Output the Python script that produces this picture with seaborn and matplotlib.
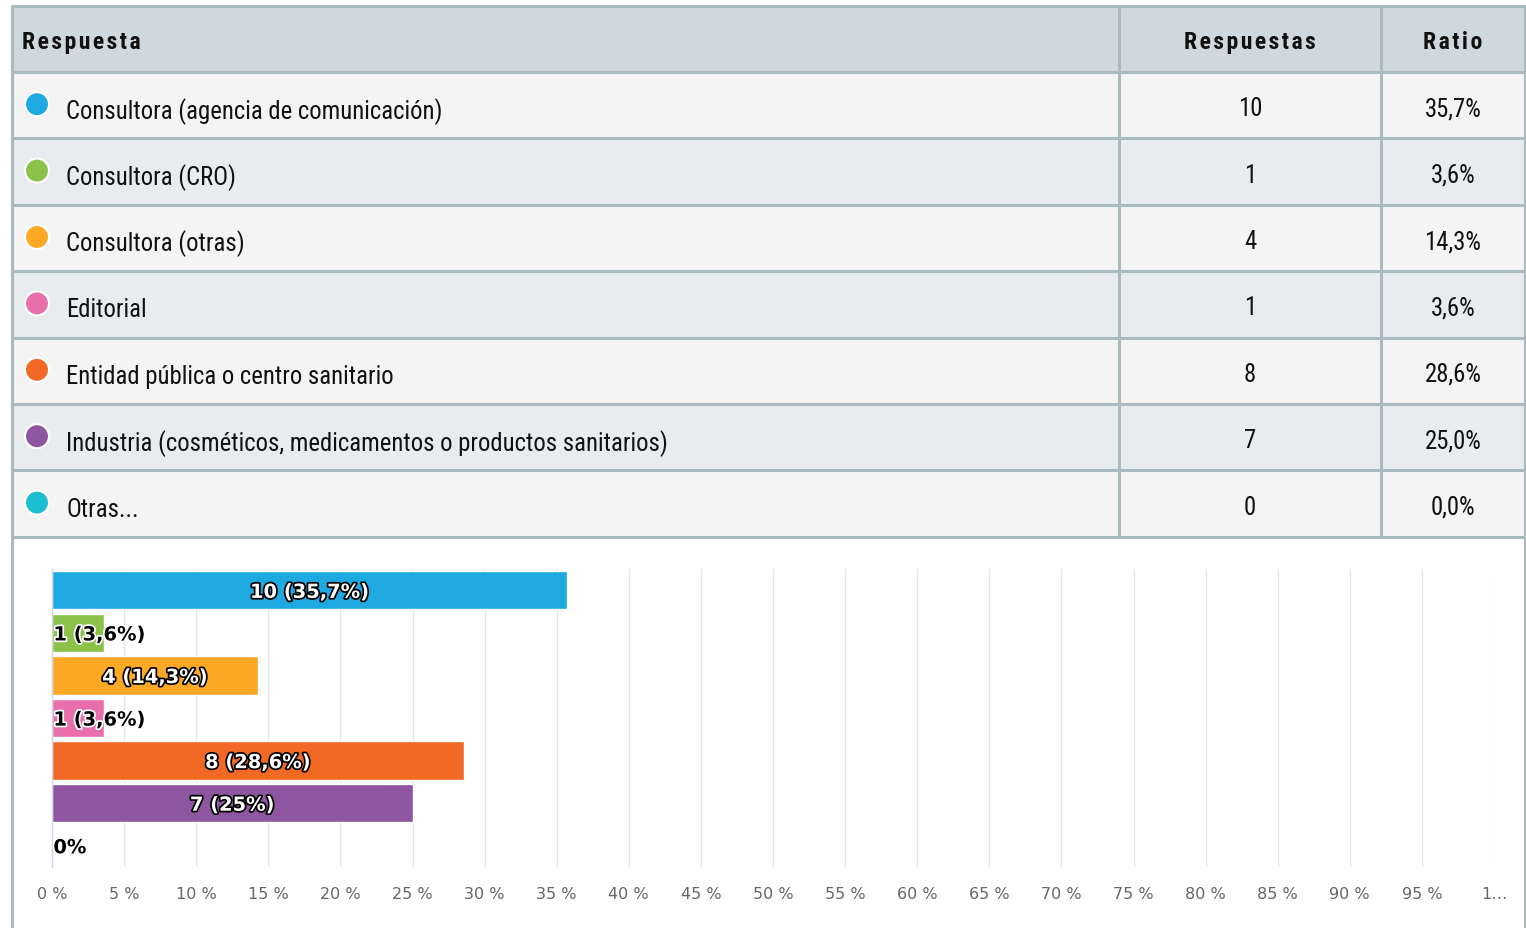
import numpy as np
import matplotlib
matplotlib.use("Agg")
import matplotlib.pyplot as plt
import matplotlib.patheffects as pe
from matplotlib import font_manager
from matplotlib.font_manager import FontProperties
from matplotlib.patches import Rectangle, Circle
import seaborn as sns

# Data
categories = [
    "Consultora (agencia de comunicación)",
    "Consultora (CRO)",
    "Consultora (otras)",
    "Editorial",
    "Entidad pública o centro sanitario",
    "Industria (cosméticos, medicamentos o productos sanitarios)",
    "Otras...",
]
counts = [10, 1, 4, 1, 8, 7, 0]
respondents = 28  # multiple choice: ratios are over 28 people
colors = ["#1fa9e1", "#8bc34a", "#fda926", "#e86fac", "#f26825", "#8e55a0", "#1cbfd0"]
tick_labels = [f"{v} %" for v in range(0, 100, 5)] + ["1…"]

pct = [c / respondents * 100 for c in counts]

sns.set_theme(style="white")
plt.rcParams["font.family"] = ["DejaVu Sans"]


def find_condensed(bold):
    # look for a narrow/condensed face among the installed fonts
    prefs = ["Roboto", "Noto Sans", "Open Sans", "DejaVu Sans", "Liberation Sans"]
    hits = []
    for f in font_manager.fontManager.ttflist:
        low = f.fname.lower()
        cond = ("condensed" in low or "narrow" in low or "cond" in f.name.lower()
                or f.stretch in ("condensed", "semi-condensed"))
        if not cond or "italic" in low or "oblique" in low:
            continue
        w = f.weight if isinstance(f.weight, int) else (700 if "bold" in str(f.weight) else 400)
        fn = low.rsplit("/", 1)[-1]
        if bold and w != 700:
            continue
        if not bold and (w != 400 or "semi" in fn or "extra" in fn or "light" in fn
                         or "medium" in fn or "black" in fn or "thin" in fn):
            continue
        if "semicondensed" in fn or "extracondensed" in fn or "semi-condensed" in f.stretch:
            continue
        rank = next((k for k, p in enumerate(prefs) if f.name.startswith(p)), 99)
        hits.append((rank, f.fname))
    if hits:
        hits.sort()
        return FontProperties(fname=hits[0][1])
    return None


fp_reg = find_condensed(False)
fp_bold = find_condensed(True)

W, H = 1526, 929
fig = plt.figure(figsize=(W / 100, H / 100), dpi=100)
fig.patch.set_facecolor("white")

# background axes in pixel coordinates for the table
bg = fig.add_axes([0, 0, 1, 1], zorder=0)
bg.set_xlim(0, W)
bg.set_ylim(H, 0)
bg.axis("off")

border = "#aabbc0"
top, head_bot, row_h = 7, 73, 66.4
col1, col2 = 1119, 1381
left, right = 11.5, 1524.5

bg.add_patch(Rectangle((left, top), right - left, head_bot - top, color="#cfd8dc", lw=0))
for i in range(len(categories)):
    y0 = head_bot + i * row_h
    bg.add_patch(Rectangle((left, y0), right - left, row_h,
                           color="#f4f4f4" if i % 2 == 0 else "#e8ecee", lw=0))
table_bot = head_bot + len(categories) * row_h

lw = 2.2
bg.plot([left, right], [top, top], color=border, lw=lw)
for i in range(len(categories) + 1):
    y = head_bot + i * row_h
    bg.plot([left, right], [y, y], color=border, lw=lw)
bg.plot([left, left], [top, H], color=border, lw=lw)
bg.plot([right, right], [top, H], color=border, lw=lw)
for x in (col1, col2):
    bg.plot([x, x], [top, table_bot], color=border, lw=lw)


def tfont(bold, size):
    base = fp_bold if bold else fp_reg
    if base is None:
        fp = FontProperties(family="DejaVu Sans", weight="bold" if bold else "normal")
        fp.set_size(size * 0.8)
    else:
        fp = base.copy()
        fp.set_size(size)
    return fp


hs = "\u200a"
for x, txt, ha in [(22, "Respuesta", "left"), (1250, "Respuestas", "center"),
                   (1453, "Ratio", "center")]:
    bg.text(x, 42, hs.join(txt), ha=ha, va="center", color="#111111",
            fontproperties=tfont(True, 17))

for i, (cat, c, p, col) in enumerate(zip(categories, counts, pct, colors)):
    yc = head_bot + (i + 0.5) * row_h
    bg.add_patch(Circle((37, yc - 1), 12, facecolor=col, edgecolor="white", lw=1.5))
    bg.text(66, yc + 5, cat, ha="left", va="center", color="#111111",
            fontproperties=tfont(False, 17.8))
    bg.text(1250, yc + 3, str(c), ha="center", va="center", color="#111111",
            fontproperties=tfont(False, 17.8))
    bg.text(1453, yc + 3, f"{p:.1f}".replace(".", ",") + "%", ha="center", va="center",
            color="#111111", fontproperties=tfont(False, 17.8))

# bar chart
ax = fig.add_axes([52 / W, 1 - 868 / H, (1494 - 52) / W, (868 - 570) / H], zorder=2)
ax.patch.set_alpha(0)
sns.barplot(x=pct, y=categories, hue=categories, palette=colors, orient="h",
            width=0.9, legend=False, saturation=1, edgecolor="white", linewidth=1, ax=ax)
ax.set_xlim(0, 100)
ax.set_ylim(6.5, -0.5)
ax.set_xticks(range(0, 101, 5))
ax.set_xticklabels(tick_labels, color="#666666", fontsize=11.5)
ax.set_yticks([0, 2.5, 5])
ax.set_yticklabels([])
ax.tick_params(axis="x", length=0, pad=14)
ax.tick_params(axis="y", length=9.5, width=1, color="#ccd6eb", direction="out")
ax.grid(axis="x", color="#e6e6e6", lw=1)
ax.set_axisbelow(True)
for s in ("top", "right", "bottom"):
    ax.spines[s].set_visible(False)
ax.spines["left"].set_color("#ccd6eb")
ax.spines["left"].set_linewidth(1)
ax.set_xlabel("")
ax.set_ylabel("")

for i, (c, p) in enumerate(zip(counts, pct)):
    ps = f"{p:.1f}".rstrip("0").rstrip(".").replace(".", ",")
    label = "0%" if c == 0 else f"{c} ({ps}%)"
    if p > 10:
        ax.annotate(label, (p / 2, i), xytext=(0, -1.5), textcoords="offset points",
                    ha="center", va="center", fontsize=14, fontweight="bold", color="white",
                    path_effects=[pe.withStroke(linewidth=2.5, foreground="black")])
    else:
        ax.annotate(label, (0, i), xytext=(1, -1.5), textcoords="offset points", ha="left",
                    va="center", fontsize=14, fontweight="bold", color="black",
                    path_effects=[pe.withStroke(linewidth=2.5, foreground="white")])

fig.savefig("out.png", dpi=100, facecolor="white")
